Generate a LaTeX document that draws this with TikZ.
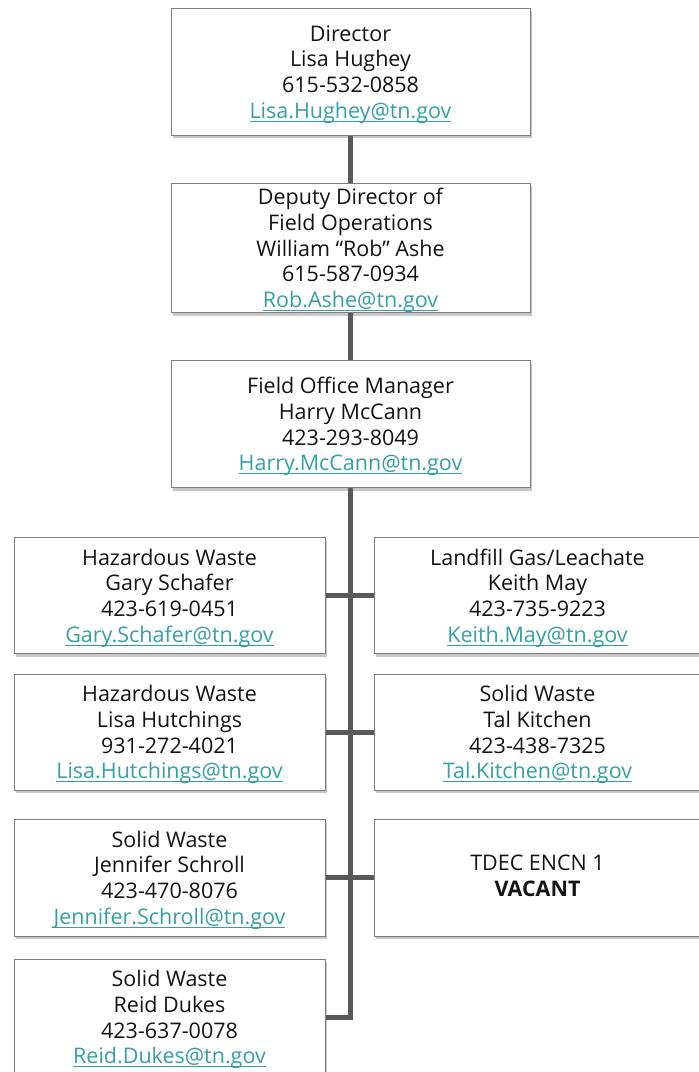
\documentclass[tikz,border=0pt]{standalone}
\usepackage{fontspec}
\setmainfont{Open Sans}
\usetikzlibrary{shadows}
\definecolor{linkc}{HTML}{35A0A5}
\definecolor{txtc}{HTML}{141414}
\definecolor{linec}{HTML}{595959}
\definecolor{borderc}{HTML}{7F7F7F}
\newcommand\mylink[1]{{\color{linkc}\setbox0\hbox{#1}\rlap{\smash{\rule[-3.5pt]{\wd0}{1pt}}}\box0}}
\newcommand\ft{\rule{0pt}{21.5pt}}
\tikzset{
  orgbox/.style={draw=borderc, line width=1pt, fill=white, inner sep=0pt, align=center,
    text=txtc, font=\fontsize{21.5}{25.7}\selectfont,
    drop shadow={shadow xshift=1.5pt, shadow yshift=-3pt, opacity=0.22, fill=black}},
  topbox/.style={orgbox, minimum width=359pt, minimum height=127pt},
  leftbox/.style={orgbox, minimum width=311pt, minimum height=116pt},
  rightbox/.style={orgbox, minimum width=327pt, minimum height=116pt},
  conn/.style={draw=linec, line width=5pt, line join=miter}
}
\begin{document}
\begin{tikzpicture}[x=1pt, y=-1pt]
\useasboundingbox (0,0) rectangle (699,1072);
\fill[white] (0,0) rectangle (699,1072);
% top chain
\node[topbox] (dir) at (350.5,71.5) {\ft Director\\Lisa Hughey\\615-532-0858\\\mylink{Lisa.Hughey@tn.gov}};
\node[topbox, minimum height=128pt] (dep) at (350.5,248) {\ft Deputy Director of\\Field Operations\\William “Rob” Ashe\\615-587-0934\\\mylink{Rob.Ashe@tn.gov}};
\node[topbox] (mgr) at (350.5,424) {\ft Field Office Manager\\Harry McCann\\423-293-8049\\\mylink{Harry.McCann@tn.gov}};
% rows
\node[leftbox] (l1) at (169.5,595.5) {\ft Hazardous Waste\\Gary Schafer\\423-619-0451\\\mylink{Gary.Schafer@tn.gov}};
\node[rightbox] (r1) at (537.5,595.5) {\ft Landfill Gas/Leachate\\Keith May\\423-735-9223\\\mylink{Keith.May@tn.gov}};
\node[leftbox] (l2) at (169.5,732) {\ft Hazardous Waste\\Lisa Hutchings\\931-272-4021\\\mylink{Lisa.Hutchings@tn.gov}};
\node[rightbox] (r2) at (537.5,732) {\ft Solid Waste\\Tal Kitchen\\423-438-7325\\\mylink{Tal.Kitchen@tn.gov}};
\node[leftbox, minimum height=117pt] (l3) at (169.5,877.5) {\ft Solid Waste\\Jennifer Schroll\\423-470-8076\\\mylink{Jennifer.Schroll@tn.gov}};
\node[rightbox, minimum height=117pt] (r3) at (537.5,877.5) {TDEC ENCN 1\\\textbf{VACANT}\rule[-4pt]{0pt}{4pt}};
\node[leftbox] (l4) at (169.5,1017) {\ft Solid Waste\\Reid Dukes\\423-637-0078\\\mylink{Reid.Dukes@tn.gov}};
% connectors
\draw[conn] (dir.south) -- (dep.north);
\draw[conn] (dep.south) -- (mgr.north);
\draw[conn] (mgr.south) |- (l4.east);
\draw[conn] (l1.east) -- (r1.west);
\draw[conn] (l2.east) -- (r2.west);
\draw[conn] (l3.east) -- (r3.west);
\end{tikzpicture}
\end{document}
